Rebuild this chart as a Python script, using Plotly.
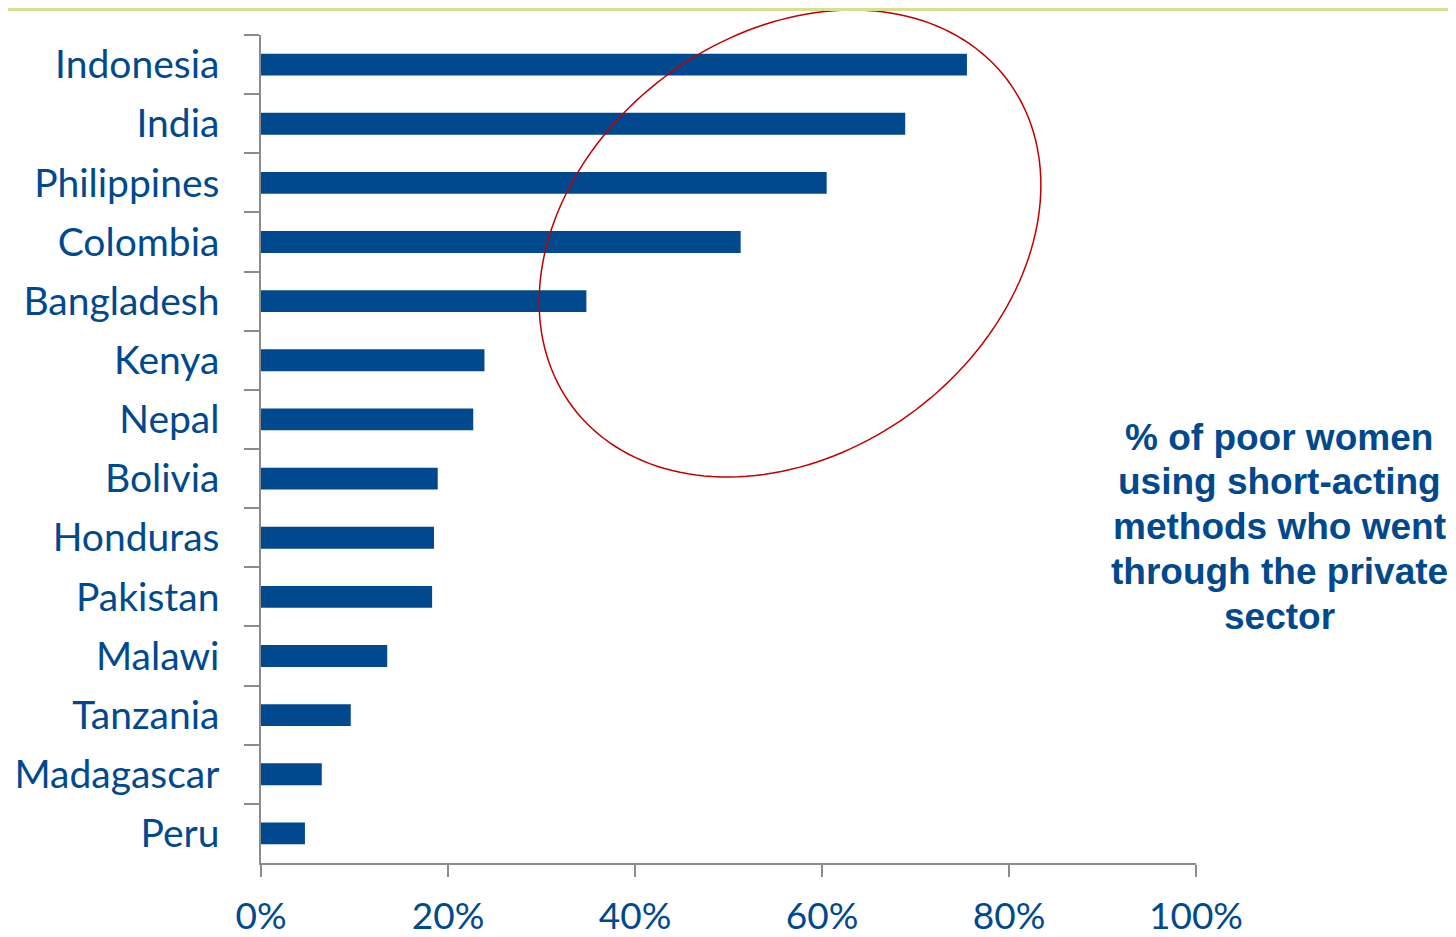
import math
import plotly.graph_objects as go

countries = ["Indonesia", "India", "Philippines", "Colombia", "Bangladesh", "Kenya", "Nepal",
             "Bolivia", "Honduras", "Pakistan", "Malawi", "Tanzania", "Madagascar", "Peru"]
values = [0.755, 0.689, 0.605, 0.513, 0.348, 0.239, 0.227, 0.189, 0.185, 0.183, 0.135, 0.096, 0.065, 0.047]
x_ticks = [0, 0.2, 0.4, 0.6, 0.8, 1.0]
x_tick_labels = ["0%", "20%", "40%", "60%", "80%", "100%"]
note_lines = ["% of poor women", "using short-acting", "methods who went",
              "through the private", "sector"]

OFF = 8  # page body margin
W, H = 1448, 929
L, R, T, B = 261 - OFF, 260, 35 - OFF, 74
pw, ph = W - L - R, H - T - B

def px2paper(x, y):
    # screen pixel -> paper coords
    x -= OFF
    y -= OFF
    return (x - L) / pw, (H - B - y) / ph

blue = "#00498F"
fig = go.Figure(go.Bar(
    x=values, y=countries, orientation="h",
    marker=dict(color=blue, line=dict(width=0)),
))

# ellipse highlight (screen pixel space, rotated)
cx, cy, A, Bm, th = 790, 243.5, 272, 208.5, math.radians(37)
pts = []
for i in range(0, 181):
    t = 2 * math.pi * i / 180
    ex = A * math.cos(t)
    ey = Bm * math.sin(t)
    x = cx + ex * math.cos(th) - ey * math.sin(th)
    y = cy - (ex * math.sin(th) + ey * math.cos(th))
    pts.append(px2paper(x, y))
path = "M " + " L ".join(f"{a:.5f},{b:.5f}" for a, b in pts) + " Z"

x0, y0 = px2paper(OFF, OFF)
x1, y1 = px2paper(W + OFF, OFF + 3)

line_y = [437, 482, 526, 571, 616]
annotations = []
for txt, yy in zip(note_lines, line_y):
    annotations.append(dict(
        text=txt, xref="paper", yref="paper",
        x=px2paper(1279, 0)[0], y=px2paper(0, yy)[1],
        xanchor="center", yanchor="middle", align="center", showarrow=False,
        font=dict(family="Liberation Sans", size=37, color=blue, weight="bold"),
    ))

fig.update_layout(
    width=W, height=H,
    margin=dict(l=L, r=R, t=T, b=B, autoexpand=False),
    paper_bgcolor="white", plot_bgcolor="white",
    bargap=0.63, showlegend=False,
    font=dict(family="Lato", color=blue),
    xaxis=dict(range=[0, 1], tickvals=x_ticks, ticktext=x_tick_labels,
               showgrid=False, zeroline=False, showline=True, linecolor="#8c8c8c", linewidth=1.5,
               ticks="outside", ticklen=12, tickcolor="#8c8c8c", tickwidth=1.5,
               tickfont=dict(size=37, color=blue, family="Lato"), ticklabelstandoff=8),
    yaxis=dict(autorange="reversed", showgrid=False, zeroline=False, showline=True,
               linecolor="#8c8c8c", linewidth=1.5, ticks="outside", ticklen=15,
               tickcolor="#8c8c8c", tickwidth=1.5, tickson="boundaries",
               tickfont=dict(size=39, color=blue, family="Lato"), ticklabelstandoff=32),
    shapes=[
        dict(type="path", path=path, xref="paper", yref="paper",
             line=dict(color="#C00000", width=1.5), fillcolor="rgba(0,0,0,0)"),
        dict(type="rect", xref="paper", yref="paper", x0=x0, x1=x1, y0=y1, y1=y0,
             line=dict(width=0), fillcolor="#D9DE90", layer="above"),
    ],
    annotations=annotations,
)

fig.write_html("out.html")
